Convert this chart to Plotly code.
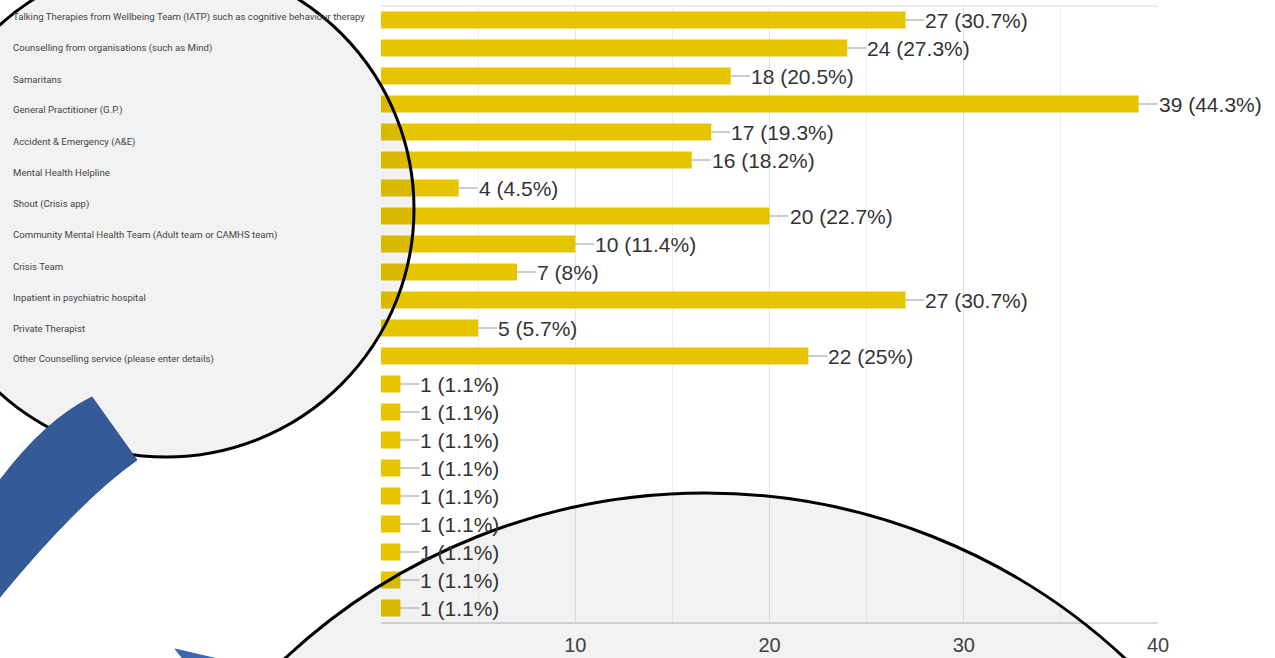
import plotly.graph_objects as go

# ---- data ----
values = [27, 24, 18, 39, 17, 16, 4, 20, 10, 7, 27, 5, 22, 1, 1, 1, 1, 1, 1, 1, 1, 1]
percents = ["30.7", "27.3", "20.5", "44.3", "19.3", "18.2", "4.5", "22.7", "11.4", "8",
            "30.7", "5.7", "25", "1.1", "1.1", "1.1", "1.1", "1.1", "1.1", "1.1", "1.1", "1.1"]
circle_labels = [
    "Talking Therapies from Wellbeing Team (IATP) such as cognitive behaviour therapy",
    "Counselling from organisations (such as Mind)",
    "Samaritans",
    "General Practitioner (G.P.)",
    "Accident & Emergency (A&E)",
    "Mental Health Helpline",
    "Shout (Crisis app)",
    "Community Mental Health Team (Adult team or CAMHS team)",
    "Crisis Team",
    "Inpatient in psychiatric hospital",
    "Private Therapist",
    "Other Counselling service (please enter details)",
]
x_tick_values = [10, 20, 30, 40]
x_tick_labels = ["10", "20", "30", "40"]

rows = list(range(len(values)))

# ---- geometry helpers (pixel -> paper) ----
W, H = 1275, 658
L, R, T, B = 381, 1158, 6, 622


def px(x):
    return (x - L) / (R - L)


def py(y):
    return (B - y) / (B - T)


BAR = "#e5c400"
TXT = "#333333"

fig = go.Figure()
fig.add_trace(go.Bar(
    x=values, y=rows, orientation="h",
    marker=dict(color=BAR, line=dict(width=0)),
    hoverinfo="skip", showlegend=False,
))

annotations = []
for v, r, p in zip(values, rows, percents):
    annotations.append(dict(
        x=v, y=r, xref="x", yref="y",
        text=f"{v} ({p}%)",
        showarrow=True, arrowhead=0, arrowwidth=1.2, arrowcolor="#9a9a9a",
        ax=19, ay=0, xanchor="left", yanchor="middle",
        font=dict(family="Arial, 'Liberation Sans', sans-serif", size=21, color=TXT),
        borderpad=0,
    ))

# labels in the magnified circle
label_y = [17, 48.5, 79.5, 110.5, 142, 173, 204, 235, 266, 297, 328, 359]
for lab, yy in zip(circle_labels, label_y):
    annotations.append(dict(
        x=px(11), y=py(yy), xref="paper", yref="paper",
        text=lab, showarrow=False, xanchor="left", yanchor="middle",
        font=dict(family="Roboto, sans-serif", size=9.6, color="#444444"),
    ))

shapes = []
# top border line of plot
shapes.append(dict(type="line", xref="paper", yref="paper", x0=0, x1=1, y0=py(6), y1=py(6),
                   line=dict(color="#ececec", width=2), layer="below"))

# magnified circle (top-left)
cx, cy, rr = 166, 209, 248
shapes.append(dict(type="circle", xref="paper", yref="paper",
                   x0=px(cx - rr), x1=px(cx + rr), y0=py(cy + rr), y1=py(cy - rr),
                   fillcolor="rgba(0,0,0,0.05)", line=dict(color="black", width=3), layer="above"))

# bottom circle
cx2, cy2, rr2 = 705, 1109, 616
shapes.append(dict(type="circle", xref="paper", yref="paper",
                   x0=px(cx2 - rr2), x1=px(cx2 + rr2), y0=py(cy2 + rr2), y1=py(cy2 - rr2),
                   fillcolor="rgba(0,0,0,0.05)", line=dict(color="black", width=3), layer="above"))


def P(x, y):
    return f"{px(x):.5f},{py(y):.5f}"


# blue curved band
band = (f"M {P(92, 397)} L {P(137, 460)} Q {P(80, 500)} {P(0, 597)} "
        f"L {P(-12, 615)} L {P(-12, 492)} L {P(0, 480)} Q {P(45, 420)} {P(92, 397)} Z")
shapes.append(dict(type="path", xref="paper", yref="paper", path=band,
                   fillcolor="#345b97", line=dict(color="#2f5390", width=1), layer="above"))
# arrow head fragment
head = f"M {P(175, 649)} L {P(222, 660)} L {P(184, 660)} Z"
shapes.append(dict(type="path", xref="paper", yref="paper", path=head,
                   fillcolor="#3d66b0", line=dict(color="#3d66b0", width=1), layer="above"))

fig.update_layout(
    width=W, height=H,
    margin=dict(l=L, r=W - R, t=T, b=H - B, pad=0, autoexpand=False),
    paper_bgcolor="white", plot_bgcolor="white",
    bargap=0.39,
    annotations=annotations,
    shapes=shapes,
    xaxis=dict(
        range=[0, 40], tickvals=x_tick_values, ticktext=x_tick_labels,
        showgrid=True, gridcolor="#e4e4e4", gridwidth=1,
        minor=dict(dtick=5, showgrid=True, gridcolor="#f0f0f0", gridwidth=1),
        zeroline=False, showline=True, linecolor="#dcdcdc", linewidth=1.5,
        ticks="", ticklabelstandoff=4, automargin=False,
        tickfont=dict(family="Arial, 'Liberation Sans', sans-serif", size=20, color="#444444"),
        fixedrange=True,
    ),
    yaxis=dict(
        range=[len(values) - 0.5, -0.5], showticklabels=False, showgrid=False,
        zeroline=False, showline=False, ticks="", fixedrange=True, automargin=False,
    ),
    showlegend=False,
)

fig.write_html(
    "out.html",
    config={"displayModeBar": False},
    post_script="document.body.style.margin='0';document.body.style.overflow='hidden';",
)
